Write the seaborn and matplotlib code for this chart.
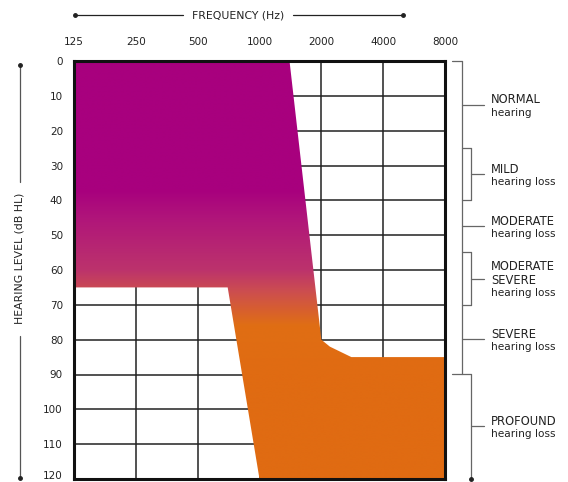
import numpy as np
import seaborn as sns
import matplotlib.pyplot as plt
import matplotlib.transforms as mtransforms
from matplotlib.patches import Polygon

# audiogram frequencies / hearing levels
freq_ticks = [125, 250, 500, 1000, 2000, 4000, 8000]
level_ticks = list(range(0, 121, 10))

# outline of the shaded "hearing loss" region (Hz, dB HL)
area_freq = [125, 1400, 2000, 2200, 2800, 8000, 8000, 1000, 700, 125]
area_level = [0, 0, 80, 82, 85, 85, 120, 120, 65, 65]

# degree-of-loss bands (dB HL)
band_names = ["NORMAL", "MILD", "MODERATE", "MODERATE\nSEVERE", "SEVERE", "PROFOUND"]
band_sub = ["hearing", "hearing loss", "hearing loss", "hearing loss", "hearing loss", "hearing loss"]
band_lo = [0, 25, 40, 55, 70, 90]
band_hi = [25, 40, 55, 70, 90, 120]
band_boxed = [False, True, False, True, False, True]

sns.set_style("white")
plt.rcParams['font.family'] = ['DejaVu Sans']

W, H = 568, 482
fig = plt.figure(figsize=(W / 100, H / 100), dpi=100)
ax = fig.add_axes([74 / W, 1 - 479 / H, (445 - 74) / W, (479 - 61) / H])
ax.set_xscale('log', base=2)
ax.set_xlim(125, 8000)
ax.set_ylim(120, 0)

# gradient fill clipped to the region
cmap = sns.blend_palette(["#A8007E", "#A8007E", "#B0157A", "#BC336C", "#CC4D50",
                          "#E06E14", "#E06B12", "#E06B12"], n_colors=1024, as_cmap=True)
stops = np.linspace(0, 120, 1000)
pos = np.interp(stops, [0, 37, 45, 60, 66, 76, 90, 120], np.linspace(0, 1, 8))
grad = cmap(pos)[:, None, :]
im = ax.imshow(grad, extent=[0, 1, 0, 1], transform=ax.transAxes,
               aspect='auto', origin='upper', zorder=2, interpolation='bilinear')
poly = Polygon(np.column_stack([area_freq, area_level]), closed=True,
               facecolor='none', edgecolor='none', transform=ax.transData)
ax.add_patch(poly)
im.set_clip_path(poly)

# grid
ax.set_xticks(freq_ticks)
ax.set_xticklabels([str(f) for f in freq_ticks])
ax.set_yticks(level_ticks)
ax.set_yticklabels([str(v) for v in level_ticks])
ax.minorticks_off()
ax.grid(True, color='#222222', linewidth=1.1, zorder=1)
ax.set_axisbelow(True)
ax.xaxis.tick_top()
ax.tick_params(axis='both', length=0, labelsize=7.5, colors='#222222')
ax.tick_params(axis='x', pad=10)
ax.tick_params(axis='y', pad=8)
last = ax.get_yticklabels()[-1]
last.set_transform(last.get_transform() + mtransforms.ScaledTranslation(0, 3 / 72, fig.dpi_scale_trans))
for s in ax.spines.values():
    s.set_visible(True)
    s.set_color('#111111')
    s.set_linewidth(2.2)
    s.set_zorder(5)


def fx(px):
    return px / W


def fpy(py):
    return 1 - py / H


def fy(v):
    return fpy(61 + v * 3.48)


txt = '#222222'
gray = '#666666'
lw = 0.9

# axis titles with arrows
fig.text(fx(238), fpy(15), "FREQUENCY (Hz)", ha='center', va='center', fontsize=7.8, color=txt)
for xa, xb in [(183, 75), (293, 403)]:
    fig.add_artist(plt.Line2D([fx(xa), fx(xb)], [fpy(15), fpy(15)], color=txt, lw=0.9))
    fig.add_artist(plt.Line2D([fx(xb)], [fpy(15)], marker='o', ms=2.5, color=txt))
fig.text(fx(20), fpy(258), "HEARING LEVEL (dB HL)", ha='center', va='center', rotation=90,
         fontsize=7.8, color=txt)
for ya, yb in [(182, 65), (336, 478)]:
    fig.add_artist(plt.Line2D([fx(20), fx(20)], [fpy(ya), fpy(yb)], color='#555555', lw=0.9))
    fig.add_artist(plt.Line2D([fx(20)], [fpy(yb)], marker='o', ms=2.5, color=txt))


# right-hand brackets
def seg(x0, y0, x1, y1):
    fig.add_artist(plt.Line2D([fx(x0), fx(x1)], [fy(y0), fy(y1)], color=gray, lw=lw))


seg(452, 0, 462, 0)
seg(462, 0, 462, 90)
seg(452, 90, 471, 90)
seg(471, 90, 471, 120)
fig.add_artist(plt.Line2D([fx(471)], [fy(120)], marker='o', ms=2.5, color=txt))
for name, sub, lo, hi, boxed in zip(band_names, band_sub, band_lo, band_hi, band_boxed):
    mid = (lo + hi) / 2
    if boxed and lo < 90:
        seg(462, lo, 471, lo)
        seg(462, hi, 471, hi)
        seg(471, lo, 471, hi)
    x0 = 471 if boxed else 462
    seg(x0, mid, 484, mid)
    ymid = 61 + mid * 3.48
    lines = name.split("\n")
    first = ymid - 5 - (len(lines) - 1) * 6.5
    for i, ln in enumerate(lines):
        fig.text(fx(491), fpy(first + 13 * i), ln, ha='left', va='center',
                 fontsize=8.3, color=txt)
    fig.text(fx(491), fpy(first + 13 * len(lines)), sub, ha='left', va='center',
             fontsize=7.6, color=txt)

fig.savefig("out.png", dpi=100)
